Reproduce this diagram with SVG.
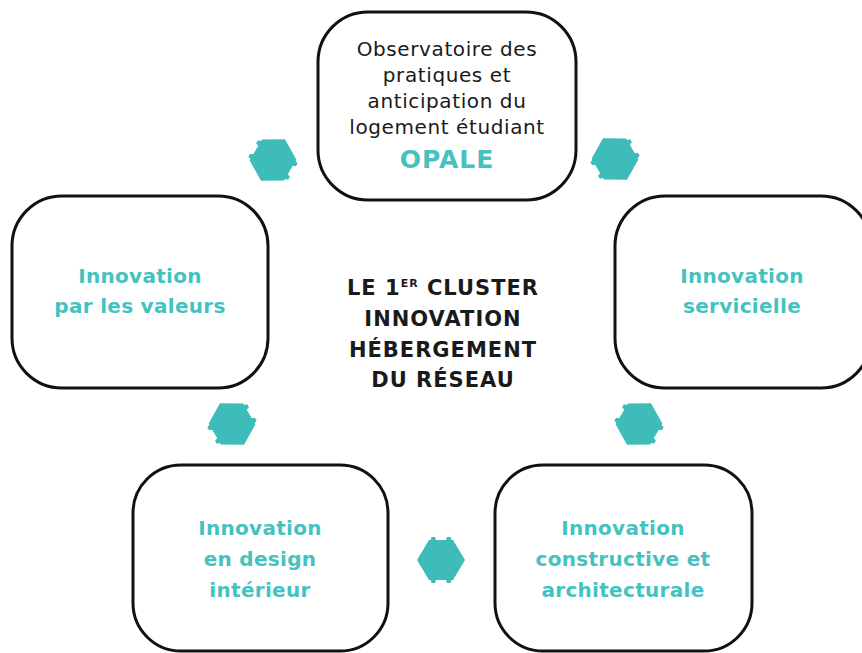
<svg xmlns="http://www.w3.org/2000/svg" width="862" height="653" viewBox="0 0 862 653">
<defs>
<style>
.box{fill:#fff;stroke:#111;stroke-width:3}
.teal{font-family:"DejaVu Sans",sans-serif;font-size:20px;font-weight:bold;fill:#45c2bf;text-anchor:middle;letter-spacing:0.3px}
.dark{font-family:"DejaVu Sans",sans-serif;font-size:20px;fill:#1a1a1a;text-anchor:middle;letter-spacing:0.6px}
.center{font-family:"DejaVu Sans",sans-serif;font-size:21px;font-weight:bold;fill:#1a1a1a;text-anchor:middle;letter-spacing:1px}
.hex{fill:#3dbcb9}
</style>
<path id="hx" d="M -24,0 L -12,-20 L -10.5,-20 L -9.5,-23 L -6,-23 L -5,-20 L 5,-20 L 6,-23 L 9.5,-23 L 10.5,-20 L 12,-20 L 24,0 L 12,20 L 10.5,20 L 9.5,23 L 6,23 L 5,20 L -5,20 L -6,23 L -9.5,23 L -10.5,20 L -12,20 Z"/>
</defs>
<rect width="862" height="653" fill="#fff"/>
<g id="connectors">
<use href="#hx" class="hex" transform="translate(273,160) rotate(-60)"/>
<use href="#hx" class="hex" transform="translate(615,159) rotate(60)"/>
<use href="#hx" class="hex" transform="translate(232,424) rotate(60)"/>
<use href="#hx" class="hex" transform="translate(639,424) rotate(-60)"/>
<use href="#hx" class="hex" transform="translate(441,560)"/>
</g>
<g id="opale">
<rect class="box" x="318" y="12" width="258" height="188" rx="50"/>
<text class="dark" x="447" y="56">Observatoire des</text>
<text class="dark" x="447" y="82">pratiques et</text>
<text class="dark" x="447" y="108">anticipation du</text>
<text class="dark" x="447" y="134">logement étudiant</text>
<text class="teal" x="447" y="168" style="font-size:25px;letter-spacing:1px">OPALE</text>
</g>
<g id="valeurs">
<rect class="box" x="12" y="196" width="256" height="192" rx="50"/>
<text class="teal" x="140" y="283">Innovation</text>
<text class="teal" x="140" y="313">par les valeurs</text>
</g>
<g id="servicielle">
<rect class="box" x="615" y="196" width="256" height="192" rx="50"/>
<text class="teal" x="742" y="283">Innovation</text>
<text class="teal" x="742" y="313">servicielle</text>
</g>
<g id="design">
<rect class="box" x="133" y="465" width="255" height="186" rx="48"/>
<text class="teal" x="260" y="535">Innovation</text>
<text class="teal" x="260" y="566">en design</text>
<text class="teal" x="260" y="597">intérieur</text>
</g>
<g id="constructive">
<rect class="box" x="495" y="465" width="257" height="186" rx="48"/>
<text class="teal" x="623" y="535">Innovation</text>
<text class="teal" x="623" y="566">constructive et</text>
<text class="teal" x="623" y="597">architecturale</text>
</g>
<g id="center">
<text class="center" x="443" y="295">LE 1<tspan style="font-size:11px" dy="-8">ER</tspan><tspan dy="8"> CLUSTER</tspan></text>
<text class="center" x="443" y="326">INNOVATION</text>
<text class="center" x="443" y="357">HÉBERGEMENT</text>
<text class="center" x="443" y="387">DU RÉSEAU</text>
</g>
</svg>
